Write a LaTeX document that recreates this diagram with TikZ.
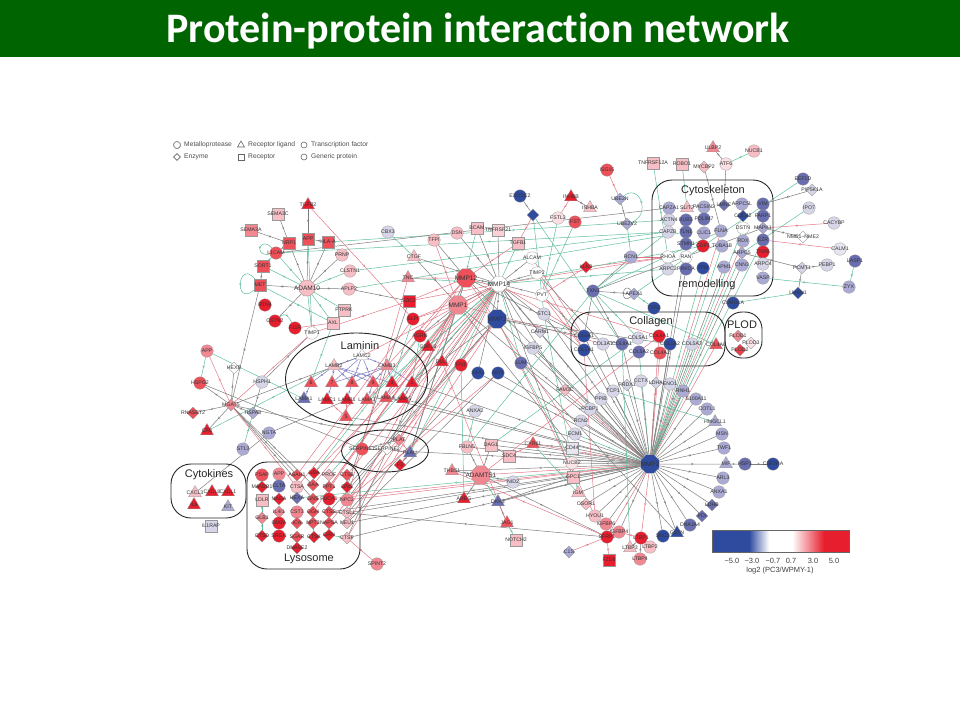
\documentclass[tikz,border=0pt]{standalone}
\usepackage{fontspec}
\setmainfont{Liberation Sans}
\newfontfamily\titlefont[Ligatures=NoCommon]{Carlito}
\usetikzlibrary{shapes.geometric, decorations.markings}
\pgfdeclarelayer{edges}
\pgfsetlayers{edges,main}
\definecolor{bargreen}{RGB}{0,100,0}
\definecolor{rA}{RGB}{230,30,45}
\definecolor{rB}{RGB}{238,80,90}
\definecolor{rC}{RGB}{241,135,145}
\definecolor{rD}{RGB}{247,190,197}
\definecolor{bD}{RGB}{214,214,232}
\definecolor{bC}{RGB}{170,170,212}
\definecolor{bB}{RGB}{105,110,176}
\definecolor{bA}{RGB}{47,75,160}
\definecolor{gl}{RGB}{125,125,125}
\definecolor{rl}{RGB}{226,120,133}
\definecolor{tl}{RGB}{95,190,155}
\definecolor{vl}{RGB}{125,125,195}

\begin{document}
\begin{tikzpicture}[
			x=1pt, y=-1pt,
			nd/.style={
				draw=black!40,
				line width=0.3pt,
				inner sep=0pt,
				font=\fontsize{5.2}{5.2}\selectfont,
				text=black!80,
				execute at begin node={\hbox to 0pt\bgroup\hss},
				execute at end node={\hss\egroup}
			},
			prot/.style={nd, circle, fill=#1, minimum size=12.5pt},
			rec/.style={nd, rectangle, fill=#1, minimum size=12pt},
			lig/.style={nd, regular polygon, regular polygon sides=3, fill=#1, minimum size=15pt},
			enz/.style={nd, diamond, fill=#1, minimum size=12pt},
			mmpase/.style={nd, regular polygon, regular polygon sides=8, fill=#1, minimum size=20pt, font=\fontsize{6.5}{6.5}\selectfont},
			group/.style={draw=black!85, line width=0.9pt, rounded corners=20pt, inner sep=0pt},
			oval/.style={draw=black!85, line width=0.9pt, ellipse, inner sep=0pt},
			grouptitle/.style={font=\fontsize{11}{11}\selectfont, text=black!85, inner sep=0pt},
			key/.style={draw=black!60, line width=0.6pt, inner sep=0pt, fill=white},
			keytext/.style={anchor=west, font=\fontsize{6.7}{6.7}\selectfont, text=black!70, inner sep=0pt},
			barfont/.style={font=\fontsize{7.5}{7.5}\selectfont, text=black!75, inner sep=0pt},
			net/.style={line width=0.5pt, postaction={decorate},
				decoration={markings, mark=at position 0.55 with {\arrow[scale=0.7]{stealth}}}},
			gline/.style={net, draw=gl},
			rline/.style={net, draw=rl},
			tline/.style={net, draw=tl},
			vline/.style={net, draw=vl}
			]
			
			\useasboundingbox (0,0) rectangle (960,720);
			
			\node (bar) [fill=bargreen, minimum width=960pt, minimum height=57pt, inner sep=0pt] at (480,28.5) {};
			\node (title) [text=white, inner sep=0pt, font=\titlefont\bfseries\fontsize{42}{44}\selectfont] at (478,31) {Protein-protein interaction network};
			
			% key
			\node (kmeta) [key, regular polygon, regular polygon sides=8, minimum size=7pt] at (177,145) {};
			\node (kenz) [key, diamond, minimum size=7pt] at (177,157) {};
			\node (klig) [key, regular polygon, regular polygon sides=3, minimum size=8pt] at (241,145) {};
			\node (krec) [key, rectangle, minimum size=6pt] at (241,157) {};
			\node (ktf) [key, circle, minimum size=6pt] at (304,145) {};
			\node (kgen) [key, circle, minimum size=6pt] at (304,157) {};
			\node (tmeta) [keytext] at (184,145) {Metalloprotease};
			\node (tenz) [keytext] at (184,157) {Enzyme};
			\node (tlig) [keytext] at (248,145) {Receptor ligand};
			\node (trec) [keytext] at (248,157) {Receptor};
			\node (ttf) [keytext] at (311,145) {Transcription factor};
			\node (tgen) [keytext] at (311,157) {Generic protein};
			
			% group outlines
			\node (cytobox) [group, minimum width=121pt, minimum height=116pt] at (712.5,238) {};
			\node (colbox) [group, minimum width=154pt, minimum height=54pt] at (648,339) {};
			\node (plodbox) [group, rounded corners=17pt, minimum width=37pt, minimum height=46pt] at (743.5,335) {};
			\node (cytokbox) [group, minimum width=75pt, minimum height=54pt] at (208.5,491) {};
			\node (lysobox) [group, minimum width=113pt, minimum height=107pt] at (303.5,515.5) {};
			\node (lamoval) [oval, minimum width=142pt, minimum height=92pt] at (356.5,379) {};
			\node (serpoval) [oval, minimum width=87pt, minimum height=42pt] at (385,451) {};
			\node (cytot) [grouptitle] at (713,191) {Cytoskeleton};
			\node (remot) [grouptitle] at (707,285) {remodelling};
			\node (colt) [grouptitle] at (651,322) {Collagen};
			\node (plodt) [grouptitle] at (742,325) {PLOD};
			\node (lamt) [grouptitle] at (360,346) {Laminin};
			\node (cytokt) [grouptitle] at (209,475) {Cytokines};
			\node (lysot) [grouptitle] at (309,559) {Lysosome};
			
			% upper left
			\node (tgfb2) [lig=rA] at (308,205) {TGFB2};
			\node (sema3c) [rec=rD] at (278,214) {SEMA3C};
			\node (sema3a) [rec=rC] at (251,230) {SEMA3A};
			\node (app) [rec=rB] at (308,239) {APP};
			\node (hla) [rec=rB] at (328,242) {HLA-A};
			\node (nrp1) [rec=rB] at (289,243) {NRP1};
			\node (l1cam) [prot=rB] at (276,253) {L1CAM};
			\node (prnp) [prot=rD] at (342,255) {PRNP};
			\node (clstn1) [prot=rD] at (350,271) {CLSTN1};
			\node (sort1) [rec=rB] at (263,266) {SORT1};
			\node (met) [rec=rB] at (260,285) {MET};
			\node (adam10) [mmpase=rD, minimum size=17pt] at (307,288) {ADAM10};
			\node (aplp2) [prot=rD] at (349,289) {APLP2};
			\node (ptprk) [rec=rD] at (344,310) {PTPRK};
			\node (axl) [rec=rD] at (333,323) {AXL};
			\node (rtn4) [prot=rA] at (265,305) {RTN4};
			\node (cstn) [prot=rA] at (275,321) {CSTN2};
			\node (f11r) [prot=rA] at (295,328) {F11R};
			\node (timp1) [prot=white] at (312,333) {TIMP1};
			
			% upper middle
			\node (cbx3) [prot=bD] at (388,232) {CBX3};
			\node (ctgf) [lig=rD] at (414,257) {CTGF};
			\node (tnc) [lig=rC] at (408,278) {TNC};
			\node (sdc) [rec=rA] at (409,301) {SDC2};
			\node (slpi) [prot=rA] at (413,319) {SLPI};
			\node (agrn) [prot=rA] at (420,336) {AGRN};
			\node (gdf15) [lig=rA] at (428,347) {GDF15};
			\node (dll1) [lig=rA] at (442,362) {DLL1};
			\node (fn) [prot=rA] at (461,365) {FN1};
			\node (saa1) [prot=bA] at (478,373) {SAA1};
			\node (nov) [prot=bA] at (498,373) {NOV};
			\node (lum) [prot=bB] at (521,363) {LUM};
			\node (tfpi) [prot=rD] at (434,240) {TFPI};
			\node (dsn) [prot=rD] at (457,233) {DSN};
			\node (bcam) [rec=rD] at (477,228) {BCAM};
			\node (tnfrsf21) [rec=rD!70] at (498,230) {TNFRSF21};
			\node (tgfb1) [rec=rD] at (518,243) {TGFB1};
			\node (alcam) [prot=white] at (532,258) {ALCAM};
			\node (timp2) [prot=white] at (537,273) {TIMP2};
			\node (pvt) [prot=white] at (542,295) {PVT};
			\node (stc1) [prot=bD] at (544,314) {STC1};
			\node (carm1) [enz=bD] at (540,332) {CARM1};
			\node (igfbp5) [prot=bD] at (533,348) {IGFBP5};
			\node (exosc2) [prot=bA] at (520,196) {EXOSC2};
			\node (bdia) [enz=bA] at (533,215) {};
			\node (inhbb) [lig=rA] at (571,197) {INHBB};
			\node (inhba) [lig=rD] at (590,208) {INHBA};
			\node (fstl3) [prot=rD!50] at (558,218) {FSTL3};
			\node (fst) [prot=rB] at (575,222) {FST};
			\node (isg15) [prot=rB] at (607,170) {ISG15};
			\node (ube2n) [enz=bC] at (620,199) {UBE2N};
			\node (ube2v2) [enz=bC] at (627,224) {UBE2V2};
			\node (rcn1) [prot=bC] at (631,257) {RCN1};
			\node (klk3) [enz=rA] at (586,267) {KLK3};
			\node (txn1) [prot=bB] at (593,291) {TXN1};
			\node (apex1) [enz=bC] at (634,294) {APEX1};
			\node (mmp12) [mmpase=rB] at (466,278) {MMP12};
			\node (mmp14) [mmpase=white, minimum size=17pt] at (499,284) {MMP14};
			\node (mmp1) [mmpase=rC] at (458,305) {MMP1};
			\node (mmp3) [mmpase=bA] at (497,319) {MMP3};
			
			% upper right
			\node (tnfrsf12a) [rec=rD] at (653,163) {TNFRSF12A};
			\node (robo1) [rec=rD] at (682,164) {ROBO1};
			\node (mycbp2) [enz=rD] at (704,167) {MYCBP2};
			\node (ulbp2) [lig=rC] at (713,148) {ULBP2};
			\node (atf6) [prot=rD!50] at (726,164) {ATF6};
			\node (nucb1) [prot=rD] at (754,151) {NUCB1};
			\node (eef1d) [prot=bB] at (803,179) {EEF1D};
			\node (pip5k1a) [enz=bD] at (812,190) {PIP5K1A};
			\node (ipo7) [prot=bD] at (809,208) {IPO7};
			\node (cacybp) [prot=bD] at (834,223) {CACYBP};
			\node (nme) [enz=white] at (803,237) {NME1–NME2};
			\node (calm1) [prot=bD!60] at (840,249) {CALM1};
			\node (lasp1) [prot=bB] at (855,261) {LASP1};
			\node (zyx) [prot=bC] at (849,287) {ZYX};
			\node (pcmt1) [enz=bD] at (802,268) {PCMT1};
			\node (pebp1) [prot=bD] at (827,265) {PEBP1};
			\node (lman1) [enz=bA] at (798,293) {LMAN1};
			\node (coro1a) [prot=bA] at (733,303) {CORO1A};
			\node (txn2) [prot=bA] at (654,308) {TXN2};
			
			% cytoskeleton
			\node (capza1) [prot=bC] at (669,208) {CAPZA1};
			\node (slit2) [lig=rD] at (687,208) {SLIT2};
			\node (pacsin2) [prot=bC] at (704,207) {PACSIN2};
			\node (lmnc) [enz=bB] at (724,205) {LMNC};
			\node (arpc5l) [prot=bC] at (742,204) {ARPC5L};
			\node (vim) [prot=bB] at (763,204) {VIM};
			\node (actn4) [prot=bD] at (669,220) {ACTN4};
			\node (bub3) [prot=bB] at (686,220) {BUB3};
			\node (pdlim7) [prot=bB] at (704,219) {PDLIM7};
			\node (cdc42) [enz=bA] at (743,216) {CDC42};
			\node (farp1) [prot=bB] at (763,216) {FARP1};
			\node (capzb) [prot=bD] at (668,232) {CAPZB};
			\node (tln1) [prot=bB] at (686,232) {TLN1};
			\node (clic1) [prot=bC] at (704,233) {CLIC1};
			\node (flna) [prot=bC] at (721,231) {FLNA};
			\node (dstn) [prot=white] at (743,228) {DSTN};
			\node (mapk1) [enz=bC] at (763,228) {MAPK1};
			\node (stmn1) [prot=bB] at (686,244) {STMN1};
			\node (cdp1) [prot=rA] at (703,246) {CDP1};
			\node (tuba1b) [prot=bC] at (722,246) {TUBA1B};
			\node (rdx) [prot=bC] at (743,241) {RDX};
			\node (ezr) [prot=bB] at (763,240) {EZR};
			\node (arpc5) [enz=bC] at (742,253) {ARPC5};
			\node (tnxb) [prot=rA] at (763,252) {TNXB};
			\node (rhoa) [prot=white] at (668,257) {RHOA};
			\node (ran) [prot=white] at (686,257) {RAN};
			\node (arpc3) [prot=bD] at (668,269) {ARPC3};
			\node (prkca) [prot=bB] at (686,269) {PRKCA};
			\node (tpm) [prot=bA] at (703,268) {TPM};
			\node (apm1) [prot=bC] at (724,267) {APM1};
			\node (cnn3) [prot=bC] at (742,265) {CNN3};
			\node (arpc4) [prot=bD] at (763,264) {ARPC4};
			\node (vasp) [prot=bC] at (763,278) {VASP};
			
			% collagen and plod
			\node (col6a1) [prot=bA] at (584,336) {COL6A1};
			\node (col1a1) [prot=bA] at (584,350) {COL1A1};
			\node (col3a1) [prot=bD] at (603,344) {COL3A1};
			\node (col8a1) [prot=bB] at (622,344) {COL8A1};
			\node (col5a1) [prot=bD] at (638,338) {COL5A1};
			\node (col5a2) [prot=bB] at (639,352) {COL5A2};
			\node (col4a1) [prot=rA] at (659,336) {COL4A1};
			\node (col4a2) [prot=rB] at (660,353) {COL4A2};
			\node (col1a2) [prot=bA] at (670,344) {COL1A2};
			\node (col5a3) [prot=bD] at (692,344) {COL5A3};
			\node (col4a6) [lig=rB] at (716,345) {COL4A6};
			\node (plod1) [enz=rC] at (738,336) {PLOD1};
			\node (plod3) [enz=rD!40] at (751,343) {PLOD3};
			\node (plod2) [enz=rA!85] at (740,350) {PLOD2};
			
			% left side
			\node (apoe) [prot=rC] at (207,351) {APP};
			\node (hexb) [enz=white] at (234,368) {HEXB};
			\node (hspg2) [prot=rB] at (200,383) {HSPG2};
			\node (hsph1) [prot=bD] at (262,382) {HSPH1};
			\node (rnaset2) [enz=rB] at (193,413) {RNASET2};
			\node (mgat5) [enz=rC] at (231,405) {MGAT5};
			\node (hspa8) [enz=bC] at (253,413) {HSPA8};
			\node (cfb) [lig=rA] at (207,431) {CFB};
			\node (ngta) [prot=bC] at (269,433) {NGTA};
			\node (st13) [prot=bC] at (243,449) {ST13};
			\node (cxcl3) [lig=rD] at (195,493) {CXCL3};
			\node (cxcl8) [lig=rA] at (212,492) {CXCL8};
			\node (cxcl1) [lig=rA] at (228,492) {CXCL1};
			\node (il6) [lig=rA] at (194,505) {IL6};
			\node (kit) [lig=bC] at (228,507) {KIT};
			\node (il1rap) [rec=bD] at (211,526) {IL1RAP};
			\node (spint2) [prot=rC] at (377,564) {SPINT2};
			
			% lysosome
			\node (psap) [prot=rB] at (262,475) {PSAP};
			\node (appb) [prot=rC] at (279,474) {APP};
			\node (asah1) [enz=rB] at (297,475) {ASAH1};
			\node (gba) [enz=rA] at (314,473) {GBA};
			\node (prof) [enz=rD] at (329,475) {PROF};
			\node (ctsb) [enz=rB] at (347,475) {CTSB};
			\node (man2b1) [enz=rA] at (262,487) {MAN2B1};
			\node (clta) [prot=bB] at (279,486) {CLTA};
			\node (ctsa) [prot=rD] at (297,487) {CTSA};
			\node (gaa) [enz=rB] at (313,485) {GAA};
			\node (ppt1) [enz=rB] at (329,487) {PPT1};
			\node (gnsa) [enz=rA] at (347,487) {GNS};
			\node (ldlr) [rec=rD] at (262,500) {LDLR};
			\node (naga) [enz=rA] at (279,499) {NAGA};
			\node (hexa) [enz=bB] at (297,498) {HEXA};
			\node (gnsb) [enz=rB] at (313,499) {GNS};
			\node (fuca1) [prot=rA] at (329,499) {FUCA1};
			\node (npc2) [prot=rC] at (347,500) {NPC2};
			\node (il4i1) [enz=rC] at (279,512) {IL4I1};
			\node (cst3) [prot=rC] at (297,512) {CST3};
			\node (ggh) [enz=rB] at (313,512) {GGH};
			\node (ctss) [enz=rB] at (329,512) {CTSS};
			\node (ctsl1) [enz=rD] at (347,513) {CTSL1};
			\node (glb1) [enz=rC] at (262,518) {GLB1};
			\node (gm2a) [prot=rA] at (279,523) {GM2A};
			\node (ica) [enz=rB] at (297,523) {ICA};
			\node (npt3) [enz=rB] at (313,523) {NPT3};
			\node (napsa) [enz=rB] at (329,523) {NAPSA};
			\node (neu1) [enz=rD] at (347,523) {NEU1};
			\node (ctsd) [enz=rA] at (262,536) {CTSD};
			\node (srgn) [prot=rA] at (279,536) {SRGN};
			\node (sgar) [enz=rB] at (297,537) {SGAR};
			\node (ctsk) [enz=rA] at (314,537) {CTSK};
			\node (grn) [enz=rA] at (329,535) {GRN};
			\node (ctsf) [enz=rD] at (347,538) {CTSF};
			\node (dnase2) [enz=rA] at (297,548) {DNASE2};
			
			% laminin
			\node (lamc2) [lig=white] at (362,356) {LAMC2};
			\node (lamb2) [lig=rD] at (334,366) {LAMB2};
			\node (lamb3) [lig=rC] at (387,366) {LAMB3};
			\node (la6) [lig=rB] at (311,383) {6};
			\node (la7) [lig=rB] at (332,383) {7};
			\node (la8) [lig=rB] at (352,383) {8};
			\node (la9) [lig=rB] at (373,383) {9};
			\node (la3) [lig=rA] at (392,383) {3};
			\node (la1) [lig=rA] at (412,383) {1};
			\node (lama1) [lig=bB] at (304,399) {LAMA1};
			\node (lamc1) [lig=rA] at (327,400) {LAMC1};
			\node (lamb1) [lig=rA] at (347,400) {LAMB1};
			\node (lama3) [lig=rB] at (367,400) {LAMA3};
			\node (lama4) [lig=rB] at (386,398) {LAMA4};
			\node (lama5) [lig=rA] at (403,399) {LAMA5};
			\node (la5) [lig=rB] at (346,417) {5};
			
			% serpins
			\node (serpine1) [prot=rB] at (362,449) {SERPINE1};
			\node (serpine2) [enz=white] at (387,449) {SERPINE2};
			\node (plat) [enz=rC] at (399,440) {PLAT};
			\node (plau) [lig=bB] at (410,453) {PLAU};
			\node (ftri) [enz=rA] at (400,465) {F3};
			
			% lower middle
			\node (anxa2) [prot=bD] at (475,411) {ANXA2};
			\node (fam3c) [enz=rD] at (565,390) {FAM3C};
			\node (pcbp1) [prot=bD] at (590,409) {PCBP1};
			\node (rcn2) [prot=bD] at (581,421) {RCN2};
			\node (ecm1) [prot=bD] at (575,434) {ECM1};
			\node (cd44) [rec=bD!60] at (572,448) {CD44};
			\node (nucb2) [prot=rD!40] at (572,463) {NUCB2};
			\node (gpc1) [rec=rD] at (573,477) {GPC1};
			\node (igm) [lig=rD] at (578,493) {IGM};
			\node (osor1) [enz=rD] at (586,504) {OSOR1};
			\node (hyou1) [prot=rD] at (595,516) {HYOU1};
			\node (igfbp6) [prot=rC] at (606,524) {IGFBP6};
			\node (igfbp4) [prot=rC] at (619,532) {IGFBP4};
			\node (sfrp1) [prot=rA] at (607,537) {SFRP1};
			\node (c1s) [enz=bC] at (569,552) {C1S};
			\node (fzd8) [rec=rA] at (609,560) {FZD8};
			\node (ltbp3) [lig=rD] at (630,548) {LTBP3};
			\node (ltbp2) [prot=rD] at (650,547) {LTBP2};
			\node (ltbp1) [prot=rA] at (641,538) {LTBP1};
			\node (ltbp4) [prot=rC] at (640,559) {LTBP4};
			\node (fbln5) [prot=rD] at (467,447) {FBLN5};
			\node (dag1) [rec=rD] at (491,445) {DAG1};
			\node (sdc4) [rec=rD] at (509,456) {SDC4};
			\node (cyr61) [lig=rB] at (533,444) {CYR61};
			\node (thbs1) [lig=rC] at (452,471) {THBS1};
			\node (adamts1) [mmpase=rC] at (481,475) {ADAMTS1};
			\node (nid2) [prot=bD] at (513,482) {NID2};
			\node (areg) [lig=rA] at (464,499) {AREG};
			\node (dkk3) [lig=bB] at (498,502) {DKK3};
			\node (jag1) [lig=rB] at (507,523) {JAG1};
			\node (notch2) [rec=rD] at (516,540) {NOTCH2};
			
			% lower right
			\node (mmp2) [mmpase=bA] at (650,464) {MMP2};
			\node (ppib) [prot=bD] at (601,399) {PPIB};
			\node (tcp1) [prot=bD] at (613,391) {TCP1};
			\node (prdx1) [enz=bD] at (627,385) {PRDX1};
			\node (cct) [prot=bD] at (641,381) {CCTX};
			\node (ldha) [enz=bD] at (656,383) {LDHA};
			\node (eno1) [prot=bD] at (670,384) {ENO1};
			\node (rnh1) [prot=bC] at (683,391) {RNH1};
			\node (s100a11) [prot=bC] at (696,399) {S100A11};
			\node (cotl1) [prot=bC] at (707,409) {COTL1};
			\node (hmgcl1) [lig=bC] at (715,422) {HMGCL1};
			\node (msn) [prot=bC] at (722,434) {MSN};
			\node (twf1) [prot=bC] at (724,448) {TWF1};
			\node (mif) [lig=bC] at (726,464) {MIF};
			\node (hsp1) [prot=bB] at (745,464) {HSP1};
			\node (csf2ra) [prot=bA] at (773,464) {CSF2RA};
			\node (arl3) [prot=bC] at (723,478) {ARL3};
			\node (anxa1) [prot=bC] at (719,492) {ANXA1};
			\node (ldhb) [enz=bB] at (712,505) {LDHB};
			\node (pdi) [enz=bB] at (702,516) {PDI};
			\node (dnaja4) [prot=bB] at (690,525) {DNAJA4};
			\node (gstn) [lig=bA] at (677,533) {GSTN};
			\node (sec3) [prot=bA] at (663,536) {SEC3};
			
			% colour bar
			\fill [bA] (712,530) rectangle (749,552);
			\shade [left color=bA, right color=white] (749,530) rectangle (769,552);
			\fill [white] (769,530) rectangle (792,552);
			\shade [left color=white, right color=rA] (792,530) rectangle (824,552);
			\fill [rA] (824,530) rectangle (849,552);
			\draw [black!60, line width=0.5pt] (712,530) rectangle (849,552);
			\node (tick1) [barfont] at (732,561) {−5.0};
			\node (tick2) [barfont] at (752,561) {−3.0};
			\node (tick3) [barfont] at (773,561) {−0.7};
			\node (tick4) [barfont] at (791,561) {0.7};
			\node (tick5) [barfont] at (813,561) {3.0};
			\node (tick6) [barfont] at (834,561) {5.0};
			\node (barcap) [barfont] at (780,571) {log2 (PC3/WPMY-1)};
			
			\begin{pgfonlayer}{edges}
			\draw [gline] (tgfb2) -- (app);
			\draw [gline] (sema3c) -- (nrp1);
			\draw [gline] (sema3a) -- (nrp1);
			\draw [gline] (hla) -- (app);
			\draw [gline] (nrp1) -- (l1cam);
			\draw [tline] (sort1) -- (l1cam);
			\draw [gline] (met) -- (sort1);
			\draw [tline] (l1cam) to [out=130,in=190,looseness=7] (l1cam);
			\draw [tline] (met) to [out=130,in=220,looseness=6] (met);
			\draw [tline] (cstn) to [out=40,in=120,looseness=1.5] (f11r);
			\draw [gline] (adam10) -- (nrp1);
			\draw [gline] (adam10) -- (app);
			\draw [gline] (adam10) -- (hla);
			\draw [gline] (adam10) -- (prnp);
			\draw [tline] (adam10) -- (clstn1);
			\draw [gline] (adam10) -- (aplp2);
			\draw [tline] (adam10) -- (ptprk);
			\draw [tline] (adam10) -- (axl);
			\draw [tline] (adam10) -- (timp1);
			\draw [gline] (adam10) -- (met);
			\draw [tline] (adam10) -- (sort1);
			\draw [tline] (adam10) -- (l1cam);
			\draw [gline] (adam10) -- (cstn);
			\draw [tline] (app) -- (timp1);
			\draw [gline] (met) -- (mgat5);
			\draw [rline] (tgfb2) -- (slpi);
			\draw [rline] (f11r) -- (axl);
			\draw [tline] (met) -- (axl);
			\draw [gline] (aplp2) -- (sdc);
			\draw [tline] (hla) -- (actn4);
			\draw [tline] (l1cam) -- (capzb);
			\draw [gline] (l1cam) -- (capza1);
			\draw [tline] (clstn1) -- (capzb);
			\draw [tline] (aplp2) -- (tln1);
			\draw [tline] (cbx3) -- (ctgf);
			\draw [gline] (tfpi) -- (mmp12);
			\draw [rline] (tfpi) -- (mmp1);
			\draw [gline] (dsn) -- (mmp14);
			\draw [gline] (bcam) -- (mmp14);
			\draw [tline] (bcam) -- (mmp1);
			\draw [gline] (tnfrsf21) -- (mmp14);
			\draw [tline] (tgfb1) -- (mmp14);
			\draw [rline] (tgfb1) -- (mmp12);
			\draw [gline] (alcam) -- (mmp14);
			\draw [gline] (timp2) -- (mmp14);
			\draw [gline] (pvt) -- (mmp14);
			\draw [gline] (mmp12) -- (mmp14);
			\draw [gline] (mmp1) -- (mmp14);
			\draw [gline] (mmp3) -- (mmp14);
			\draw [gline] (carm1) -- (mmp14);
			\draw [gline] (ctgf) -- (mmp14);
			\draw [tline] (tnc) -- (mmp14);
			\draw [rline] (sdc) -- (mmp14);
			\draw [rline] (slpi) -- (mmp14);
			\draw [rline] (agrn) -- (mmp14);
			\draw [tline] (gdf15) -- (mmp14);
			\draw [rline] (dll1) -- (mmp14);
			\draw [rline] (fn) -- (mmp14);
			\draw [gline] (saa1) -- (mmp14);
			\draw [tline] (lum) -- (mmp14);
			\draw [rline] (tnc) -- (mmp12);
			\draw [gline] (ctgf) -- (mmp1);
			\draw [rline] (sdc) -- (mmp12);
			\draw [rline] (slpi) -- (mmp1);
			\draw [gline] (agrn) -- (mmp1);
			\draw [gline] (exosc2) -- (bdia);
			\draw [tline] (bdia) -- (stc1);
			\draw [tline] (bdia) -- (col8a1);
			\draw [rline] (bdia) -- (tgfb1);
			\draw [gline] (inhbb) -- (inhba);
			\draw [rline] (inhbb) -- (fstl3);
			\draw [tline] (fst) -- (pvt);
			\draw [tline] (fstl3) -- (pvt);
			\draw [rline] (isg15) -- (ube2n);
			\draw [gline] (ube2n) -- (ube2v2);
			\draw [tline] (ube2v2) to [out=20,in=40,looseness=2] (ube2n);
			\draw [tline] (ube2v2) -- (rcn1);
			\draw [gline] (rcn1) -- (txn1);
			\draw [rline] (klk3) -- (pvt);
			\draw [rline] (klk3) -- (rhoa);
			\draw [gline] (apex1) -- (txn1);
			\draw [gline] (apex1) to [out=130,in=220,looseness=6] (apex1);
			\draw [gline] (txn1) -- (col6a1);
			\draw [gline] (txn1) -- (col8a1);
			\draw [tline] (txn1) -- (col5a1);
			\draw [tline] (txn1) -- (capzb);
			\draw [tline] (txn1) -- (flna);
			\draw [gline] (txn1) -- (mapk1);
			\draw [tline] (apex1) -- (cdp1);
			\draw [tline] (txn1) -- (col4a6);
			\draw [tline] (txn2) -- (apex1);
			\draw [rline] (alcam) -- (col6a1);
			\draw [rline] (timp2) -- (col1a1);
			\draw [gline] (timp2) -- (col3a1);
			\draw [rline] (pvt) -- (col1a1);
			\draw [gline] (pvt) -- (col6a1);
			\draw [tline] (mmp14) -- (cdp1);
			\draw [rline] (mmp14) -- (rhoa);
			\draw [tline] (mmp14) -- (arpc3);
			\draw [rline] (rcn1) -- (rhoa);
			\draw [rline] (mmp14) -- (col6a1);
			\draw [gline] (mmp14) -- (col1a1);
			\draw [rline] (mmp1) -- (col3a1);
			\draw [rline] (mmp12) -- (col4a1);
			\draw [gline] (mmp3) -- (col1a2);
			\draw [gline] (mmp12) -- (col6a1);
			\draw [gline] (mmp3) -- (col8a1);
			\draw [tline] (slit2) -- (robo1);
			\draw [tline] (tnfrsf12a) -- (rhoa);
			\draw [gline] (ulbp2) -- (atf6);
			\draw [tline] (nucb1) -- (atf6);
			\draw [gline] (atf6) -- (lmnc);
			\draw [gline] (mycbp2) -- (flna);
			\draw [tline] (eef1d) -- (cdp1);
			\draw [gline] (pip5k1a) -- (vim);
			\draw [tline] (ipo7) -- (arpc5);
			\draw [rline] (cacybp) -- (mapk1);
			\draw [gline] (nme) -- (mapk1);
			\draw [rline] (calm1) -- (ezr);
			\draw [gline] (pcmt1) -- (arpc5);
			\draw [gline] (pcmt1) -- (pebp1);
			\draw [gline] (pcmt1) -- (lman1);
			\draw [tline] (zyx) -- (vasp);
			\draw [tline] (zyx) -- (lasp1);
			\draw [tline] (lman1) -- (coro1a);
			\draw [gline] (mmp2) -- (prkca);
			\draw [rline] (mmp2) -- (flna);
			\draw [gline] (mmp2) -- (apm1);
			\draw [rline] (mmp2) -- (rdx);
			\draw [gline] (mmp2) -- (cnn3);
			\draw [tline] (mmp2) -- (tuba1b);
			\draw [tline] (mmp2) -- (tpm);
			\draw [tline] (mmp2) -- (arpc5);
			\draw [tline] (mmp2) -- (ezr);
			\draw [gline] (mmp2) -- (stmn1);
			\draw [tline] (mmp2) -- (dstn);
			\draw [rline] (mmp2) -- (col4a6);
			\draw [rline] (mmp2) -- (col4a1);
			\draw [rline] (mmp2) -- (col4a2);
			\draw [gline] (mmp2) -- (col1a1);
			\draw [gline] (mmp2) -- (col6a1);
			\draw [gline] (mmp2) -- (col3a1);
			\draw [gline] (mmp2) -- (col8a1);
			\draw [tline] (mmp2) -- (col5a2);
			\draw [gline] (mmp2) -- (col5a3);
			\draw [gline] (mmp2) -- (col1a2);
			\draw [gline] (mmp2) -- (ppib);
			\draw [gline] (mmp2) -- (tcp1);
			\draw [gline] (mmp2) -- (prdx1);
			\draw [gline] (mmp2) -- (cct);
			\draw [gline] (mmp2) -- (ldha);
			\draw [gline] (mmp2) -- (eno1);
			\draw [gline] (mmp2) -- (rnh1);
			\draw [gline] (mmp2) -- (s100a11);
			\draw [gline] (mmp2) -- (cotl1);
			\draw [gline] (mmp2) -- (hmgcl1);
			\draw [gline] (mmp2) -- (msn);
			\draw [gline] (mmp2) -- (twf1);
			\draw [gline] (mmp2) -- (mif);
			\draw [gline] (mif) -- (hsp1);
			\draw [gline] (hsp1) -- (csf2ra);
			\draw [gline] (mmp2) -- (arl3);
			\draw [gline] (mmp2) -- (anxa1);
			\draw [gline] (mmp2) -- (ldhb);
			\draw [gline] (mmp2) -- (pdi);
			\draw [gline] (mmp2) -- (dnaja4);
			\draw [gline] (mmp2) -- (gstn);
			\draw [gline] (mmp2) -- (sec3);
			\draw [rline] (mmp2) -- (ltbp1);
			\draw [gline] (mmp2) -- (igfbp4);
			\draw [gline] (mmp2) -- (igfbp6);
			\draw [rline] (mmp2) -- (sfrp1);
			\draw [gline] (mmp2) -- (hyou1);
			\draw [gline] (mmp2) -- (osor1);
			\draw [gline] (mmp2) -- (igm);
			\draw [gline] (mmp2) -- (gpc1);
			\draw [gline] (mmp2) -- (nucb2);
			\draw [gline] (mmp2) -- (cd44);
			\draw [tline] (mmp2) -- (ecm1);
			\draw [gline] (mmp2) -- (rcn2);
			\draw [gline] (mmp2) -- (pcbp1);
			\draw [rline] (mmp2) -- (fam3c);
			\draw [gline] (mmp2) -- (stc1);
			\draw [gline] (mmp2) -- (carm1);
			\draw [gline] (mmp2) -- (igfbp5);
			\draw [gline] (mmp2) -- (lum);
			\draw [gline] (mmp2) -- (nov);
			\draw [gline] (mmp2) -- (saa1);
			\draw [gline] (mmp2) -- (mmp14);
			\draw [gline] (mmp2) -- (mmp3);
			\draw [gline] (mmp2) -- (mmp12);
			\draw [gline] (mmp2) -- (mmp1);
			\draw [rline] (mmp2) -- (adamts1);
			\draw [rline] (mmp2) -- (cyr61);
			\draw [gline] (mmp2) -- (sdc4);
			\draw [gline] (mmp2) -- (dag1);
			\draw [gline] (mmp2) -- (fbln5);
			\draw [gline] (mmp2) -- (dkk3);
			\draw [gline] (mmp2) -- (thbs1);
			\draw [gline] (mmp2) -- (ctss);
			\draw [gline] (mmp2) -- (ctsl1);
			\draw [gline] (mmp2) -- (neu1);
			\draw [gline] (mmp2) -- (ctsf);
			\draw [rline] (mmp2) -- (npc2);
			\draw [rline] (mmp2) -- (fuca1);
			\draw [gline] (mmp2) -- (la5);
			\draw [gline] (mmp2) -- (lama5);
			\draw [gline] (mmp2) -- (lama4);
			\draw [gline] (mmp2) -- (la1);
			\draw [gline] (mmp2) -- (serpine1);
			\draw [tline] (mmp2) -- (hexa);
			\draw [tline] (tcp1) -- (hmgcl1);
			\draw [rline] (ltbp1) -- (igfbp4);
			\draw [gline] (ltbp3) -- (ltbp1);
			\draw [gline] (ltbp2) -- (ltbp1);
			\draw [gline] (ltbp4) -- (ltbp1);
			\draw [rline] (c1s) -- (sfrp1);
			\draw [rline] (fzd8) -- (sfrp1);
			\draw [gline] (sfrp1) -- (ctsl1);
			\draw [gline] (sfrp1) -- (adamts1);
			\draw [rline] (sfrp1) -- (thbs1);
			\draw [tline] (notch2) -- (jag1);
			\draw [gline] (jag1) -- (dkk3);
			\draw [tline] (adamts1) -- (dkk3);
			\draw [gline] (adamts1) -- (nid2);
			\draw [gline] (adamts1) -- (areg);
			\draw [gline] (adamts1) -- (thbs1);
			\draw [gline] (adamts1) -- (fbln5);
			\draw [gline] (adamts1) -- (dag1);
			\draw [gline] (dag1) -- (sdc4);
			\draw [rline] (sdc4) -- (cyr61);
			\draw [tline] (cyr61) -- (igm);
			\draw [gline] (cyr61) -- (cd44);
			\draw [gline] (gpc1) -- (dkk3);
			\draw [tline] (anxa2) -- (fbln5);
			\draw [tline] (fn) -- (areg);
			\draw [rline] (dll1) -- (jag1);
			\draw [gline] (lum) -- (gstn);
			\draw [tline] (stc1) -- (igm);
			\draw [gline] (mmp1) -- (cd44);
			\draw [rline] (mmp12) -- (ecm1);
			\draw [gline] (mmp14) -- (gpc1);
			\draw [tline] (mmp3) -- (nucb2);
			\draw [rline] (mmp3) -- (hyou1);
			\draw [gline] (mmp14) -- (fam3c);
			\draw [tline] (txn1) -- (fbln5);
			\draw [rline] (col1a1) -- (hyou1);
			\draw [tline] (col5a1) -- (dag1);
			\draw [rline] (col4a1) -- (adamts1);
			\draw [tline] (col8a1) -- (ltbp3);
			\draw [gline] (mgat5) -- (hspg2);
			\draw [gline] (mgat5) -- (rnaset2);
			\draw [gline] (mgat5) -- (hspa8);
			\draw [gline] (mgat5) -- (hexb);
			\draw [gline] (mgat5) -- (cfb);
			\draw [tline] (apoe) -- (hspg2);
			\draw [tline] (apoe) -- (lama1);
			\draw [rline] (apoe) -- (mgat5);
			\draw [gline] (hspg2) -- (serpine1);
			\draw [gline] (hsph1) -- (hspa8);
			\draw [tline] (st13) -- (hspa8);
			\draw [gline] (ngta) -- (cxcl3);
			\draw [tline] (cfb) -- (lamb2);
			\draw [gline] (hsph1) -- (timp1);
			\draw [rline] (mgat5) -- (timp1);
			\draw [gline] (mgat5) -- (lamc2);
			\draw [gline] (mgat5) -- (asah1);
			\draw [gline] (mgat5) -- (gaa);
			\draw [gline] (mgat5) -- (gnsb);
			\draw [rline] (mgat5) -- (ctsa);
			\draw [gline] (mgat5) -- (plat);
			\draw [gline] (ngta) -- (lamb1);
			\draw [vline] (lamc2) -- (lamb2);
			\draw [vline] (lamc2) -- (lamb3);
			\draw [vline] (lamb2) -- (la6);
			\draw [vline] (lamb2) -- (la7);
			\draw [vline] (lamb2) -- (la8);
			\draw [vline] (lamb2) -- (la9);
			\draw [vline] (lamb2) -- (la3);
			\draw [vline] (lamb3) -- (la8);
			\draw [vline] (lamb3) -- (la9);
			\draw [vline] (lamb3) -- (la3);
			\draw [vline] (lamb3) -- (la1);
			\draw [vline] (lamb3) -- (la7);
			\draw [vline] (lamc2) -- (la8);
			\draw [vline] (lamc2) -- (la9);
			\draw [vline] (lamc2) -- (la7);
			\draw [vline] (lama1) -- (la6);
			\draw [vline] (lamc1) -- (la7);
			\draw [vline] (lamb1) -- (la8);
			\draw [vline] (lama3) -- (la9);
			\draw [vline] (lama4) -- (la3);
			\draw [vline] (lama5) -- (la1);
			\draw [rline] (lamc1) -- (la5);
			\draw [rline] (lamb1) -- (la5);
			\draw [rline] (mmp14) -- (lamc2);
			\draw [rline] (mmp1) -- (lama5);
			\draw [gline] (mmp14) -- (la1);
			\draw [rline] (mmp12) -- (lamb3);
			\draw [tline] (mmp1) -- (la3);
			\draw [tline] (slpi) -- (la3);
			\draw [gline] (mmp3) -- (la1);
			\draw [rline] (mmp1) -- (lama4);
			\draw [tline] (mmp14) -- (lama3);
			\draw [tline] (agrn) -- (la1);
			\draw [rline] (timp1) -- (sdc);
			\draw [tline] (axl) -- (la6);
			\draw [gline] (serpine1) -- (plat);
			\draw [rline] (plat) -- (plau);
			\draw [gline] (plau) -- (ftri);
			\draw [gline] (serpine2) -- (plau);
			\draw [rline] (plat) -- (mmp1);
			\draw [gline] (plau) -- (mmp1);
			\draw [tline] (plau) -- (mmp14);
			\draw [gline] (plau) -- (mmp12);
			\draw [rline] (ftri) -- (mmp3);
			\draw [gline] (psap) -- (man2b1);
			\draw [tline] (ldlr) -- (glb1);
			\draw [tline] (glb1) -- (ctsd);
			\draw [gline] (ctss) -- (ctsl1);
			\draw [tline] (ctsf) -- (grn);
			\draw [tline] (npt3) -- (ctsk);
			\draw [rline] (mmp14) -- (gba);
			\draw [rline] (mmp14) -- (ctsb);
			\draw [rline] (mmp1) -- (gaa);
			\draw [rline] (mmp1) -- (ppt1);
			\draw [rline] (mmp12) -- (ctsa);
			\draw [gline] (mmp3) -- (gnsa);
			\draw [gline] (mmp3) -- (ctss);
			\draw [tline] (mmp14) -- (prof);
			\draw [rline] (slpi) -- (asah1);
			\draw [tline] (agrn) -- (gba);
			\draw [rline] (mmp1) -- (ggh);
			\draw [rline] (gdf15) -- (ppt1);
			\draw [gline] (sdc) -- (gnsa);
			\draw [rline] (tnc) -- (npc2);
			\draw [gline] (mmp14) -- (npc2);
			\draw [rline] (mmp1) -- (ctsl1);
			\draw [rline] (mmp14) -- (neu1);
			\draw [gline] (mmp12) -- (ctsf);
			\draw [rline] (mmp14) -- (ctsf);
			\draw [rline] (mmp3) -- (napsa);
			\draw [gline] (saa1) -- (ctsl1);
			\draw [rline] (nov) -- (npc2);
			\draw [gline] (nov) -- (neu1);
			\draw [rline] (ctsf) -- (spint2);
			\end{pgfonlayer}
			
		\end{tikzpicture}
\end{document}
